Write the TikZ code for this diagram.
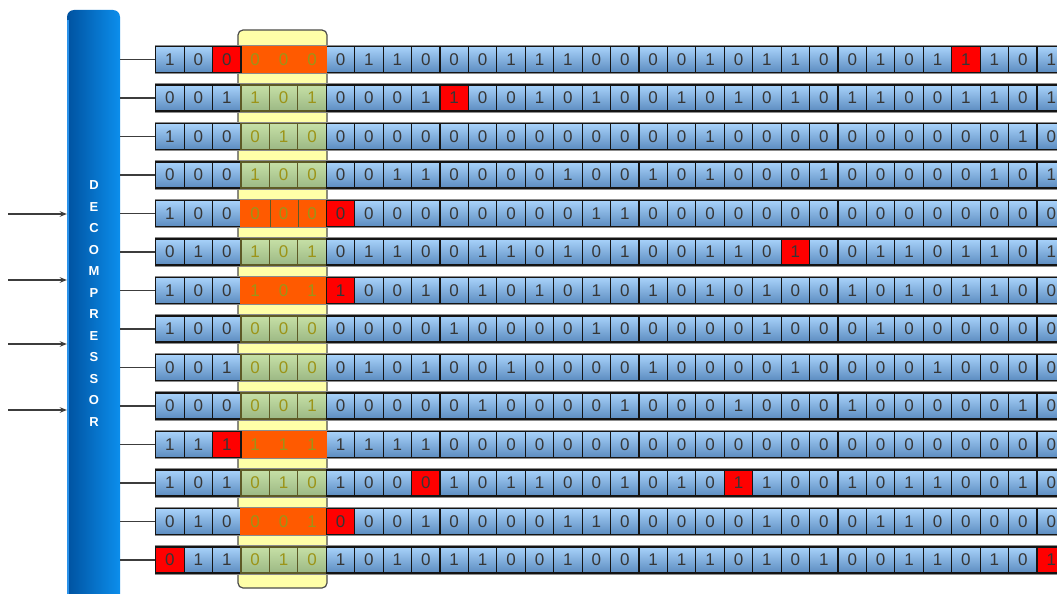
\documentclass[tikz,border=0pt]{standalone}
\usepackage{fontspec}
\setmainfont{Liberation Sans}
\usetikzlibrary{arrows.meta}
\definecolor{cellTop}{HTML}{A8D2FA}
\definecolor{cellBot}{HTML}{5C8CC0}
\definecolor{cellLine}{HTML}{141414}
\definecolor{grTop}{HTML}{C6E0A6}
\definecolor{grBot}{HTML}{9CB884}
\definecolor{oliveLine}{HTML}{5E5A26}
\definecolor{oliveTxt}{HTML}{9C9418}
\definecolor{txt}{HTML}{363636}
\definecolor{yel}{HTML}{FFFFA8}
\definecolor{orng}{HTML}{FF5A00}
\definecolor{redc}{HTML}{FF0000}
\definecolor{barL}{HTML}{0052A0}
\definecolor{barR}{HTML}{0C8EEC}
\definecolor{barEdge}{HTML}{2A92EA}
\definecolor{wire}{HTML}{3C3C3C}
\newcommand{\digitfont}{\fontsize{17}{17}\selectfont}
\tikzset{
  bcell/.style={draw=cellLine, line width=1.1pt, top color=cellTop, bottom color=cellBot,
    minimum width=28.43pt, minimum height=26pt, inner sep=0pt, text=txt, font=\digitfont},
  gcell/.style={draw=oliveLine, line width=1.1pt, top color=grTop, bottom color=grBot,
    minimum width=28.43pt, minimum height=26pt, inner sep=0pt, text=oliveTxt, font=\digitfont},
  redcell/.style={draw=cellLine, line width=1.1pt, fill=redc,
    minimum width=28.43pt, minimum height=26pt, inner sep=0pt, text=txt, font=\digitfont},
  otext/.style={inner sep=0pt, text=oliveTxt, font=\digitfont},
  rowframe/.style={draw=black!45, line width=1.3pt},
  yelbox/.style={draw=black!70, line width=1.2pt, fill=yel, rounded corners=5pt,
    minimum width=89pt, minimum height=558pt, inner sep=0pt},
  decbar/.style={left color=barL, right color=barR, rounded corners=7pt,
    minimum width=53pt, minimum height=610pt, inner sep=0pt},
  dectext/.style={text=white, align=center, inner sep=0pt,
    font=\bfseries\fontsize{13}{21.55}\selectfont},
  conn/.style={draw=wire, line width=1.4pt},
  inarrow/.style={draw=wire, line width=1.2pt, -{Stealth[length=7pt,width=5.5pt]}}
}
\begin{document}
\begin{tikzpicture}[x=1pt,y=-1pt]
\clip (0,0) rectangle (1057,594);
\fill[white] (0,0) rectangle (1057,594);

% decompressor bar
\node[decbar] (dec) at (93.5,315) {};
\draw[barEdge, line width=2pt] (68,20) -- (68,600);
\node[dectext] (dectxt) at (94,303.5) {D\\E\\C\\O\\M\\P\\R\\E\\S\\S\\O\\R};

% input arrows
\foreach \yy [count=\k] in {214,280,344,410} {
  \coordinate (in\k) at (8,\yy);
  \draw[inarrow] (in\k) -- (in\k -| dec.west);
}

% highlight window
\node[yelbox] (win) at (282.5,309) {};

% bit rows
\foreach \bits [count=\rr from 0] in {
 {1,0,0,0,0,0,0,1,1,0,0,0,1,1,1,0,0,0,0,1,0,1,1,0,0,1,0,1,1,1,0,1},
 {0,0,1,1,0,1,0,0,0,1,1,0,0,1,0,1,0,0,1,0,1,0,1,0,1,1,0,0,1,1,0,1},
 {1,0,0,0,1,0,0,0,0,0,0,0,0,0,0,0,0,0,0,1,0,0,0,0,0,0,0,0,0,0,1,0},
 {0,0,0,1,0,0,0,0,1,1,0,0,0,0,1,0,0,1,0,1,0,0,0,1,0,0,0,0,0,1,0,1},
 {1,0,0,0,0,0,0,0,0,0,0,0,0,0,0,1,1,0,0,0,0,0,0,0,0,0,0,0,0,0,0,0},
 {0,1,0,1,0,1,0,1,1,0,0,1,1,0,1,0,1,0,0,1,1,0,1,0,0,1,1,0,1,1,0,1},
 {1,0,0,1,0,1,1,0,0,1,0,1,0,1,0,1,0,1,0,1,0,1,0,0,1,0,1,0,1,1,0,0},
 {1,0,0,0,0,0,0,0,0,0,1,0,0,0,0,1,0,0,0,0,0,1,0,0,0,1,0,0,0,0,0,0},
 {0,0,1,0,0,0,0,1,0,1,0,0,1,0,0,0,0,1,0,0,0,0,1,0,0,0,0,1,0,0,0,0},
 {0,0,0,0,0,1,0,0,0,0,0,1,0,0,0,0,1,0,0,0,1,0,0,0,1,0,0,0,0,0,1,0},
 {1,1,1,1,1,1,1,1,1,1,0,0,0,0,0,0,0,0,0,0,0,0,0,0,0,0,0,0,0,0,0,0},
 {1,0,1,0,1,0,1,0,0,0,1,0,1,1,0,0,1,0,1,0,1,1,0,0,1,0,1,1,0,0,1,0},
 {0,1,0,0,0,1,0,0,0,1,0,0,0,0,1,1,0,0,0,0,0,1,0,0,0,1,1,0,0,0,0,0},
 {0,1,1,0,1,0,1,0,1,0,1,1,0,0,1,0,0,1,1,1,0,1,0,1,0,0,1,1,0,1,0,1}} {
  \pgfmathsetmacro\yy{59.5+38.5*\rr}
  \draw[rowframe] (154.8,\yy-14.2) -- (1062,\yy-14.2);
  \draw[rowframe] (154.8,\yy+14.2) -- (1062,\yy+14.2);
  \foreach \bv [count=\ii from 0] in \bits {
    \def\sty{bcell}
    \ifnum\ii>2 \ifnum\ii<6 \def\sty{gcell}\fi\fi
    \node[\sty] (c-\rr-\ii) at ({169.9+28.43*\ii},\yy) {\bv};
  }
  \coordinate (tap\rr) at (dec.east |- c-\rr-0);
  \draw[conn] (tap\rr) -- (c-\rr-0.west);
}

% orange overlays
\foreach \rr in {0,4,6,10,12} {
  \fill[orng] (c-\rr-3.north west) rectangle (c-\rr-5.south east);
}
\draw[oliveLine, line width=0.8pt] (c-4-3.north east) -- (c-4-3.south east)
  (c-4-4.north east) -- (c-4-4.south east);
\foreach \rr/\kk/\bv in {0/3/0,0/4/0,0/5/0, 4/3/0,4/4/0,4/5/0, 6/3/1,6/4/0,6/5/1,
  10/3/1,10/4/1,10/5/1, 12/3/0,12/4/0,12/5/1} {
  \node[otext] (o-\rr-\kk) at (c-\rr-\kk) {\bv};
}

% red cells
\foreach \rr/\kk/\bv in {0/2/0,0/28/1,1/10/1,4/6/0,5/22/1,6/6/1,10/2/1,11/9/0,11/20/1,12/6/0,13/0/0,13/31/1} {
  \node[redcell] (r-\rr-\kk) at (c-\rr-\kk) {\bv};
}
\end{tikzpicture}
\end{document}
